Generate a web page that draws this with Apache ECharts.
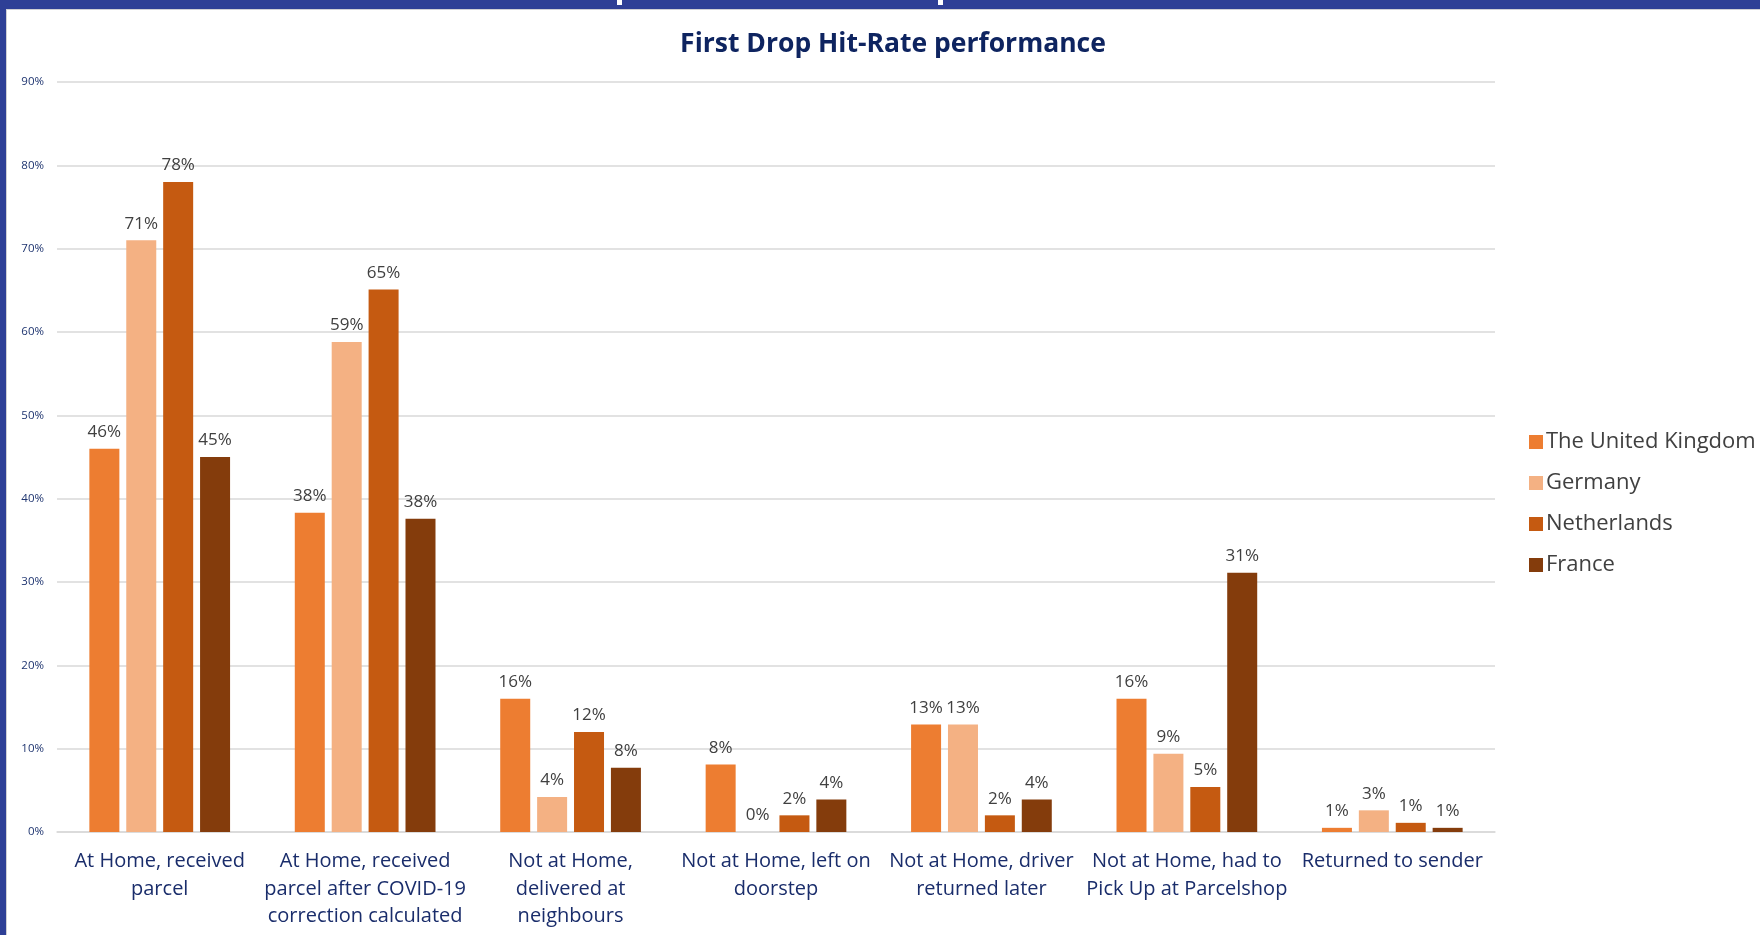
<!DOCTYPE html>
<html>
<head>
<meta charset="utf-8">
<script src="https://cdn.jsdelivr.net/npm/echarts@6/dist/echarts.min.js"></script>
<style>
  html, body { margin: 0; padding: 0; background: #fff; }
  #chart { width: 1760px; height: 935px; }
</style>
</head>
<body>
<div id="chart"></div>
<script>
// categories and series values (percent)
const categories = [
  'At Home, received\nparcel',
  'At Home, received\nparcel after COVID-19\ncorrection calculated',
  'Not at Home,\ndelivered at\nneighbours',
  'Not at Home, left on\ndoorstep',
  'Not at Home, driver\nreturned later',
  'Not at Home, had to\nPick Up at Parcelshop',
  'Returned to sender'
];
const seriesNames = ['The United Kingdom', 'Germany', 'Netherlands', 'France'];
const ukValues = [46, 38.3, 16, 8.1, 12.9, 16, 0.5];
const deValues = [71, 58.8, 4.2, 0, 12.9, 9.4, 2.6];
const nlValues = [78, 65.1, 12, 2, 2, 5.4, 1.1];
const frValues = [45, 37.6, 7.7, 3.9, 3.9, 31.1, 0.5];
const yTicks = [0, 10, 20, 30, 40, 50, 60, 70, 80, 90];

const COLORS = ['#ED7D31', '#F4B183', '#C55A11', '#843C0C'];
const FONT = "'Open Sans', sans-serif";

const chart = echarts.init(document.getElementById('chart'));

const allValues = [ukValues, deValues, nlValues, frValues];

const option = {
  animation: false,
  backgroundColor: '#ffffff',
  title: {
    text: 'First Drop Hit-Rate performance',
    left: 888,
    textAlign: 'center',
    top: 26,
    textStyle: {
      fontFamily: FONT,
      fontSize: 26.5,
      fontWeight: 'bold',
      color: '#0e2460'
    }
  },
  graphic: [
    // slide frame (blue band top and left)
    { type: 'rect', shape: { x: 0, y: 0, width: 1760, height: 9 }, style: { fill: '#2e3f96' } },
    { type: 'rect', shape: { x: 0, y: 0, width: 6, height: 935 }, style: { fill: '#2e3f96' } },
    { type: 'rect', shape: { x: 6, y: 9, width: 1754, height: 1 }, style: { fill: '#cfcfd4' } },
    { type: 'rect', shape: { x: 6, y: 9, width: 1, height: 926 }, style: { fill: '#cfcfd4' } },
    { type: 'rect', shape: { x: 617, y: 0, width: 5, height: 5 }, style: { fill: '#ffffff' } },
    { type: 'rect', shape: { x: 938, y: 0, width: 5, height: 5 }, style: { fill: '#ffffff' } }
  ],
  legend: {
    orient: 'vertical',
    left: 1524,
    top: 426,
    itemWidth: 14,
    itemHeight: 14,
    itemGap: 19,
    icon: 'rect',
    data: seriesNames,
    textStyle: {
      fontFamily: FONT,
      fontSize: 22,
      color: '#404040',
      padding: [0, 0, 0, -2]
    }
  },
  grid: {
    left: 57,
    right: 265,
    top: 82,
    bottom: 103,
    containLabel: false
  },
  xAxis: {
    type: 'category',
    data: categories,
    axisLine: { show: true, lineStyle: { color: '#d9d9d9', width: 1.5 } },
    axisTick: { show: false },
    axisLabel: {
      interval: 0,
      margin: 16,
      fontFamily: FONT,
      fontSize: 20,
      lineHeight: 27.5,
      color: '#1a2d6b'
    }
  },
  yAxis: {
    type: 'value',
    min: 0,
    max: 90,
    interval: 10,
    axisLine: { show: false },
    axisTick: { show: false },
    splitLine: { lineStyle: { color: '#d9d9d9', width: 1.5 } },
    axisLabel: {
      margin: 13,
      fontFamily: FONT,
      fontSize: 11.5,
      color: '#1f3570',
      formatter: v => (yTicks.includes(v) ? v + '%' : '')
    }
  },
  series: seriesNames.map((name, i) => ({
    name: name,
    type: 'bar',
    barWidth: 30,
    barGap: '23%',
    data: allValues[i],
    itemStyle: { color: COLORS[i] },
    label: {
      show: true,
      position: 'top',
      distance: 8,
      fontFamily: FONT,
      fontSize: 17,
      color: '#404040',
      formatter: p => Math.round(p.value) + '%'
    }
  }))
};

chart.setOption(option);
</script>
</body>
</html>
